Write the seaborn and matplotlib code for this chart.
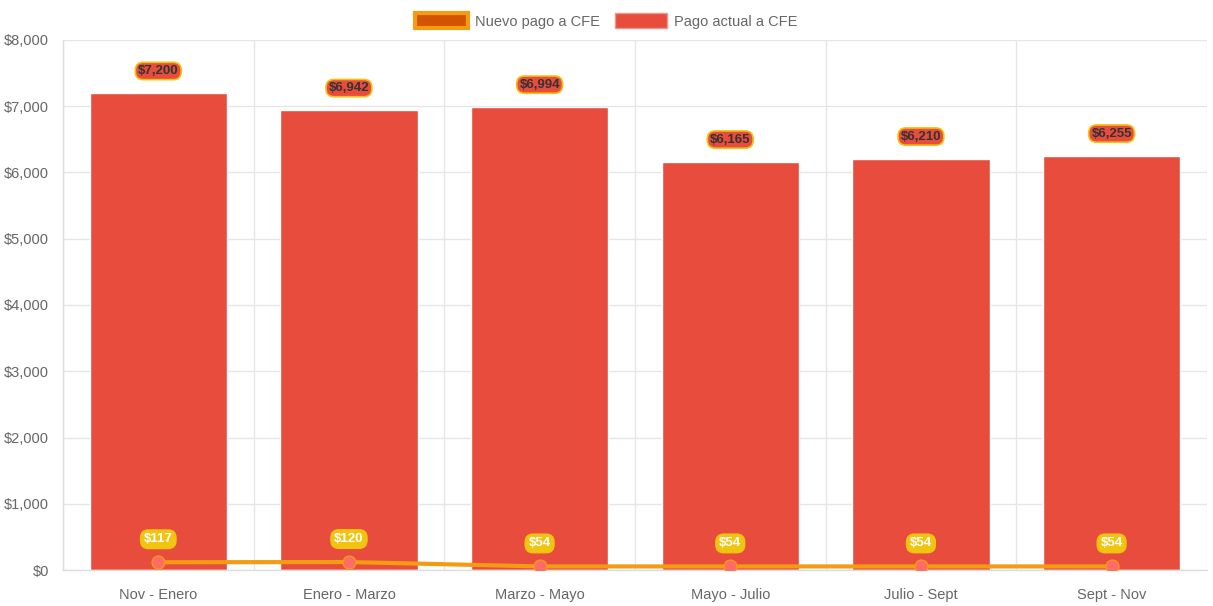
import matplotlib
matplotlib.use("Agg")
import matplotlib.pyplot as plt
import seaborn as sns
import pandas as pd
import numpy as np
from matplotlib.patches import Patch
from matplotlib.ticker import FuncFormatter, FixedLocator

categories = ["Nov - Enero", "Enero - Marzo", "Marzo - Mayo", "Mayo - Julio", "Julio - Sept", "Sept - Nov"]
pago_actual = [7200, 6942, 6994, 6165, 6210, 6255]
nuevo_pago = [117, 120, 54, 54, 54, 54]
y_ticks = [0, 1000, 2000, 3000, 4000, 5000, 6000, 7000, 8000]

sns.set_theme(style="white")
plt.rcParams['font.family'] = ['Liberation Sans', 'DejaVu Sans']

df = pd.DataFrame({"cat": categories, "actual": pago_actual, "nuevo": nuevo_pago})

fig = plt.figure(figsize=(12.13, 6.06), dpi=100)
ax = fig.add_axes([0.0519, 0.0594, 0.9431, 0.8746])

sns.barplot(data=df, x="cat", y="actual", color="#E74C3C", saturation=1, width=0.72, ax=ax, zorder=2)
x = np.arange(len(categories))
ax.plot(x, nuevo_pago, color="#F39C12", lw=3, zorder=3)
ax.scatter(x, nuevo_pago, s=85, color="#FF6B6B", edgecolor="#F39C12", linewidth=1, zorder=4)

ax.set_xlim(-0.5, len(categories) - 0.5)
ax.set_ylim(0, 8000)
ax.yaxis.set_major_locator(FixedLocator(y_ticks))
ax.yaxis.set_major_formatter(FuncFormatter(lambda v, p: f"${v:,.0f}"))
ax.set_xlabel("")
ax.set_ylabel("")

ax.set_xticks(x)
ax.set_xticklabels(categories)
ax.set_xticks(np.arange(-0.5, len(categories)), minor=True)
ax.tick_params(axis="x", which="major", length=0, labelsize=10.5, labelcolor="#666666", pad=13)
ax.tick_params(axis="x", which="minor", length=8, color="#dddddd", width=1)
ax.tick_params(axis="y", length=8, color="#dddddd", labelsize=10.5, labelcolor="#666666", pad=2)
ax.grid(axis="y", color="#e6e6e6", lw=1, zorder=0)
ax.grid(axis="x", which="minor", color="#e6e6e6", lw=1, zorder=0)
ax.grid(axis="x", which="major", visible=False)
for s in ["top", "right"]:
    ax.spines[s].set_visible(False)
for s in ["left", "bottom"]:
    ax.spines[s].set_color("#dddddd")
    ax.spines[s].set_linewidth(1)
ax.set_axisbelow(True)

for xi, v in zip(x, pago_actual):
    ax.annotate(f"${v:,}", (xi, v), xytext=(0, 22), textcoords="offset pixels",
                ha="center", va="center", fontsize=9.5, fontweight="bold", color="#333333", zorder=6,
                bbox=dict(boxstyle="round,pad=0.2,rounding_size=0.6", fc="#E74C3C", ec="#F1C40F", lw=1.2))
for xi, v in zip(x, nuevo_pago):
    ax.annotate(f"${v:,}", (xi, v), xytext=(0, 23), textcoords="offset pixels",
                ha="center", va="center", fontsize=9.5, fontweight="bold", color="white", zorder=6,
                bbox=dict(boxstyle="round,pad=0.25,rounding_size=0.6", fc="#F1C40F", ec="#F1C40F", lw=1))

handles = [Patch(facecolor="#D35400", edgecolor="#F39C12", linewidth=3, label="Nuevo pago a CFE"),
           Patch(facecolor="#E74C3C", edgecolor="#F1948A", linewidth=1, label="Pago actual a CFE")]
leg = fig.legend(handles=handles, loc="upper center", bbox_to_anchor=(0.5, 1.0), ncol=2, frameon=False,
                 fontsize=10.5, handlelength=3.6, handleheight=1.2, columnspacing=1.0, handletextpad=0.5)
for t in leg.get_texts():
    t.set_color("#666666")

fig.savefig("out.png", dpi=100)
